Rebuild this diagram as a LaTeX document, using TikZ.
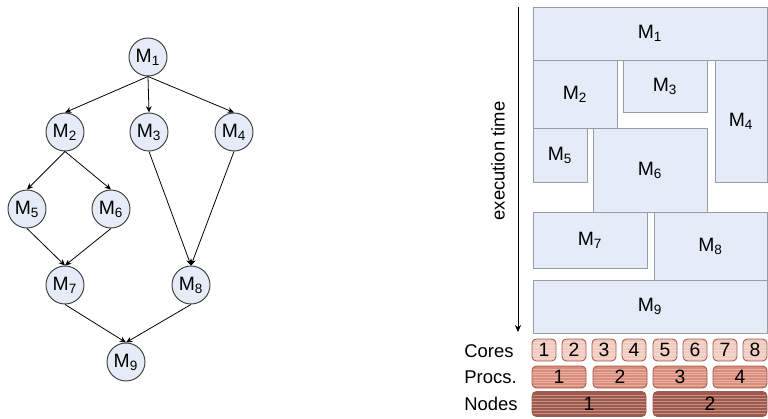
\documentclass[tikz,border=0pt]{standalone}
\usepackage{fontspec}
\setmainfont{Liberation Sans}
\usepackage{tikz}
\usetikzlibrary{calc}
\usetikzlibrary{arrows.meta}
\usetikzlibrary{positioning}
\definecolor{TaskBlue}{RGB}{230,236,247}
\definecolor{TaskEdge}{RGB}{150,155,165}
\definecolor{CoreRed}{RGB}{240,200,188}
\definecolor{ProcRed}{RGB}{218,140,120}
\definecolor{NodeRed}{RGB}{160,88,74}
\definecolor{HwEdge}{RGB}{160,90,78}
\newcommand{\mod}[1]{M\textsubscript{#1}}
\newcommand{\taskBox}[3]{%
		\draw [task] #1 rectangle node {\mod{#3}} #2;
}
\tikzset{
	dagnode/.style={circle, draw=black!75, line width=0.55pt, fill=TaskBlue, minimum size=38*0.02cm, inner sep=0pt, font=\fontsize{11}{13}\selectfont},
	dagedge/.style={-{Stealth[length=3.6pt, width=3.2pt]}, line width=0.45pt},
	task/.style={draw=TaskEdge, fill=TaskBlue, line width=0.5pt, font=\fontsize{11}{13}\selectfont},
	hw/.style={draw=HwEdge, rounded corners=2.5pt, line width=0.5pt, inner sep=0pt, font=\fontsize{11}{13}\selectfont,
		path picture={
			\foreach \f in {0.12,0.24,...,0.9}
				\draw [white, opacity=0.35, line width=0.4pt] ($(path picture bounding box.south west)!\f!(path picture bounding box.north west)$)
					-- ($(path picture bounding box.south east)!\f!(path picture bounding box.north east)$);
		}},
	core/.style={hw, fill=CoreRed, minimum width=24*0.02cm, minimum height=22*0.02cm},
	proc/.style={hw, fill=ProcRed, minimum width=54*0.02cm, minimum height=22*0.02cm},
	hwnode/.style={hw, fill=NodeRed, minimum width=114*0.02cm, minimum height=25*0.02cm},
	rowlabel/.style={anchor=west, inner sep=0pt, font=\fontsize{10.5}{12}\selectfont}
}

\begin{document}
\begin{tikzpicture}[x=0.02cm, y=-0.02cm]
	\useasboundingbox (0,0) rectangle (768,419);

	% task graph
	\node [dagnode] (m1) at (148,57) {\mod{1}};
	\node [dagnode] (m2) at (65,132) {\mod{2}};
	\node [dagnode] (m3) at (149,132) {\mod{3}};
	\node [dagnode] (m4) at (234,132) {\mod{4}};
	\node [dagnode] (m5) at (27,209) {\mod{5}};
	\node [dagnode] (m6) at (111,209) {\mod{6}};
	\node [dagnode] (m7) at (65,285) {\mod{7}};
	\node [dagnode] (m8) at (191,285) {\mod{8}};
	\node [dagnode] (m9) at (126,362) {\mod{9}};

	\foreach \a/\b in {m1/m2, m1/m3, m1/m4, m2/m5, m2/m6, m5/m7, m6/m7, m3/m8, m4/m8, m7/m9, m8/m9}
		\draw [dagedge] (\a.south) -- (\b.north);

	% schedule
	\coordinate (ttop) at (518,7);
	\coordinate (tend) at (518,332);
	\draw [-{Stealth[length=4pt, width=3.5pt]}, line width=0.5pt] (ttop) -- (tend);
	\node [rotate=90, font=\fontsize{10.5}{12}\selectfont] (tlabel) at (498,161) {execution time};

	\taskBox{(533,7)}{(767,60)}{1}
	\taskBox{(533,60)}{(617,128)}{2}
	\taskBox{(623,60)}{(707,112)}{3}
	\taskBox{(715,60)}{(767,182)}{4}
	\taskBox{(533,128)}{(587,182)}{5}
	\taskBox{(593,128)}{(707,212)}{6}
	\taskBox{(533,212)}{(647,268)}{7}
	\taskBox{(654,212)}{(767,280)}{8}
	\taskBox{(533,280)}{(767,333)}{9}

	% hardware
	\node [rowlabel] (lcores) at (464,351) {Cores};
	\node [rowlabel] (lprocs) at (464,377) {Procs.};
	\node [rowlabel] (lnodes) at (464,404) {Nodes};

	\foreach \i/\x in {1/544, 2/574, 3/604, 4/634, 5/665, 6/695, 7/725, 8/755}
		\node [core] (c\i) at (\x,350) {\i};
	\foreach \i/\x in {1/559, 2/620, 3/680, 4/740}
		\node [proc] (p\i) at (\x,377) {\i};
	\node [hwnode] (n1) at (589,404) {1};
	\node [hwnode] (n2) at (710,404) {2};
\end{tikzpicture}
\end{document}
